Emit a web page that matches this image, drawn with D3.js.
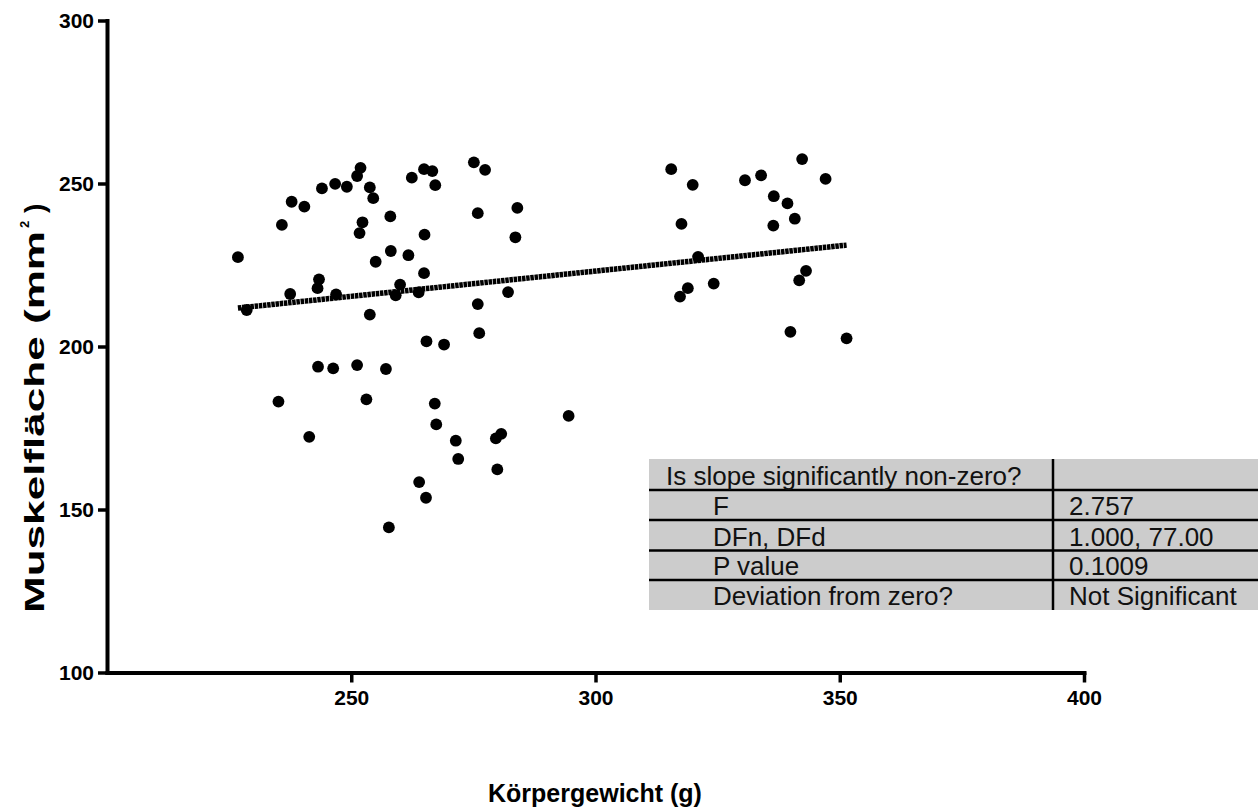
<!DOCTYPE html>
<html>
<head>
<meta charset="utf-8">
<script src="https://cdn.jsdelivr.net/npm/d3@7"></script>
<style>
  body { margin: 0; background: #fff; }
  text { font-family: "Liberation Sans", Arial, sans-serif; }
</style>
</head>
<body>
<script>
//Data
const bodyWeight = [226.8, 228.6, 237.8, 240.4, 235.8, 244.0, 246.7, 249.1, 251.2, 251.9,
  253.8, 254.5, 252.3, 251.7, 258.0, 262.4, 264.9, 266.6, 267.2, 265.0,
  258.1, 255.0, 261.7, 264.9, 243.4, 243.1, 237.5, 246.9, 260.0, 259.1,
  263.8, 253.8, 275.1, 277.4, 275.9, 284.0, 283.6, 282.1, 275.9, 276.2,
  265.4, 269.0, 243.2, 246.3, 251.2, 257.1, 235.1, 253.1, 267.1, 267.4,
  241.4, 271.4, 271.9, 279.6, 280.7, 279.9, 263.9, 265.3, 257.7, 315.5,
  319.9, 317.6, 330.6, 333.9, 342.3, 347.1, 336.5, 339.3, 336.4, 340.8,
  321.0, 318.9, 317.3, 324.2, 343.1, 341.7, 339.9, 351.4, 294.5];
const muscleArea = [227.4, 211.2, 244.4, 242.9, 237.3, 248.5, 249.9, 249.0, 252.3, 254.8,
  248.8, 245.5, 238.1, 234.8, 239.9, 251.8, 254.4, 253.8, 249.5, 234.3,
  229.3, 226.0, 228.0, 222.5, 220.6, 217.9, 216.1, 216.0, 219.0, 215.7,
  216.6, 209.8, 256.5, 254.2, 240.9, 242.5, 233.5, 216.7, 213.0, 204.1,
  201.6, 200.6, 193.8, 193.3, 194.3, 193.1, 183.1, 183.8, 182.5, 176.1,
  172.3, 171.1, 165.5, 171.8, 173.2, 162.3, 158.4, 153.6, 144.5, 254.4,
  249.6, 237.6, 251.0, 252.5, 257.5, 251.4, 246.1, 243.9, 237.1, 239.2,
  227.5, 217.9, 215.3, 219.3, 223.2, 220.3, 204.5, 202.5, 178.7];

//fitted line, two ends
const fitX = [226.8, 351.4];
const fitY = [211.8, 231.1];

const xTicks = [250, 300, 350, 400];
const yTicks = [100, 150, 200, 250, 300];

const tableLabels = ["Is slope significantly non-zero?", "F", "DFn, DFd", "P value", "Deviation from zero?"];
const tableValues = ["", "2.757", "1.000, 77.00", "0.1009", "Not Significant"];

const xTitle = "Körpergewicht (g)";

//Sizes
const width = 1258;
const height = 809;

const svg = d3.select("body")
    .append("svg")
    .attr("width", width)
    .attr("height", height);

//Scales
const xScale = d3.scaleLinear()
    .domain([200, 400])
    .range([107, 1084]);
const yScale = d3.scaleLinear()
    .domain([100, 300])
    .range([672.5, 20.5]);

//Table
const tbl = { x: 649, y: 459, rowH: [31, 30, 30.5, 29.5, 30], split: 1053 };
const rowTops = [];
let acc = tbl.y;
tbl.rowH.forEach(h => { rowTops.push(acc); acc += h; });
const tblBottom = acc;

const tg = svg.append("g");
tg.append("rect")
    .attr("x", tbl.x).attr("y", tbl.y)
    .attr("width", width - tbl.x).attr("height", tblBottom - tbl.y)
    .attr("fill", "#cccccc");
rowTops.slice(1).forEach(t => {
    tg.append("line")
        .attr("x1", tbl.x).attr("x2", width)
        .attr("y1", t).attr("y2", t)
        .attr("stroke", "#000").attr("stroke-width", 2.5);
});
tg.append("line")
    .attr("x1", tbl.split).attr("x2", tbl.split)
    .attr("y1", tbl.y).attr("y2", tblBottom)
    .attr("stroke", "#000").attr("stroke-width", 2.5);

tableLabels.forEach((lab, i) => {
    tg.append("text")
        .attr("x", i === 0 ? 666 : 713)
        .attr("y", rowTops[i] + tbl.rowH[i] - 5)
        .attr("font-size", 26)
        .attr("fill", "#111")
        .text(lab);
    tg.append("text")
        .attr("x", 1069)
        .attr("y", rowTops[i] + tbl.rowH[i] - 5)
        .attr("font-size", 26)
        .attr("fill", "#111")
        .text(tableValues[i]);
});

//Axes
const bottomAxis = d3.axisBottom(xScale)
    .tickValues(xTicks)
    .tickSize(10)
    .tickSizeOuter(0)
    .tickPadding(8)
    .tickFormat(d3.format("d"));
const leftAxis = d3.axisLeft(yScale)
    .tickValues(yTicks)
    .tickSize(9)
    .tickSizeOuter(0)
    .tickPadding(4)
    .tickFormat(d3.format("d"));

const gx = svg.append("g")
    .attr("transform", "translate(0," + yScale(100) + ")")
    .call(bottomAxis);
const gy = svg.append("g")
    .attr("transform", "translate(" + xScale(200) + ",0)")
    .call(leftAxis);

[gx, gy].forEach(g => {
    g.select(".domain").attr("stroke", "#000").attr("stroke-width", 4)
        .attr("stroke-linecap", "square");
    g.selectAll(".tick line").attr("stroke", "#000").attr("stroke-width", 3.5);
    g.selectAll(".tick text")
        .attr("font-family", "'Liberation Sans', Arial, sans-serif")
        .attr("font-size", 21)
        .attr("font-weight", "bold")
        .attr("fill", "#000");
});

//Fitted line
const line = d3.line()
    .x(d => xScale(d[0]))
    .y(d => yScale(d[1]));
svg.append("path")
    .datum(d3.zip(fitX, fitY))
    .attr("fill", "none")
    .attr("stroke", "#000")
    .attr("stroke-width", 5.5)
    .attr("stroke-dasharray", "3.5,0.7")
    .attr("d", line);

//Points
svg.append("g")
    .selectAll("circle")
    .data(d3.zip(bodyWeight, muscleArea))
    .join("circle")
    .attr("cx", d => xScale(d[0]))
    .attr("cy", d => yScale(d[1]))
    .attr("r", 5.9)
    .attr("fill", "#000");

//Axis titles
svg.append("text")
    .attr("x", 595)
    .attr("y", 802)
    .attr("text-anchor", "middle")
    .attr("font-size", 25)
    .attr("font-weight", "bold")
    .text(xTitle);

//y title is drawn stretched in the original, from y=613 up to about y=198
const yt = svg.append("g").attr("transform", "translate(44,613) rotate(-90)");
yt.append("text")
    .attr("x", 0).attr("y", 0)
    .attr("font-size", 28)
    .attr("font-weight", "bold")
    .attr("textLength", 382)
    .attr("lengthAdjust", "spacingAndGlyphs")
    .text("Muskelfläche (mm");
yt.append("text")
    .attr("x", 385).attr("y", -15)
    .attr("font-size", 13)
    .attr("font-weight", "bold")
    .text("2");
yt.append("text")
    .attr("x", 400).attr("y", 0)
    .attr("font-size", 28)
    .attr("font-weight", "bold")
    .text(")");
</script>
</body>
</html>
